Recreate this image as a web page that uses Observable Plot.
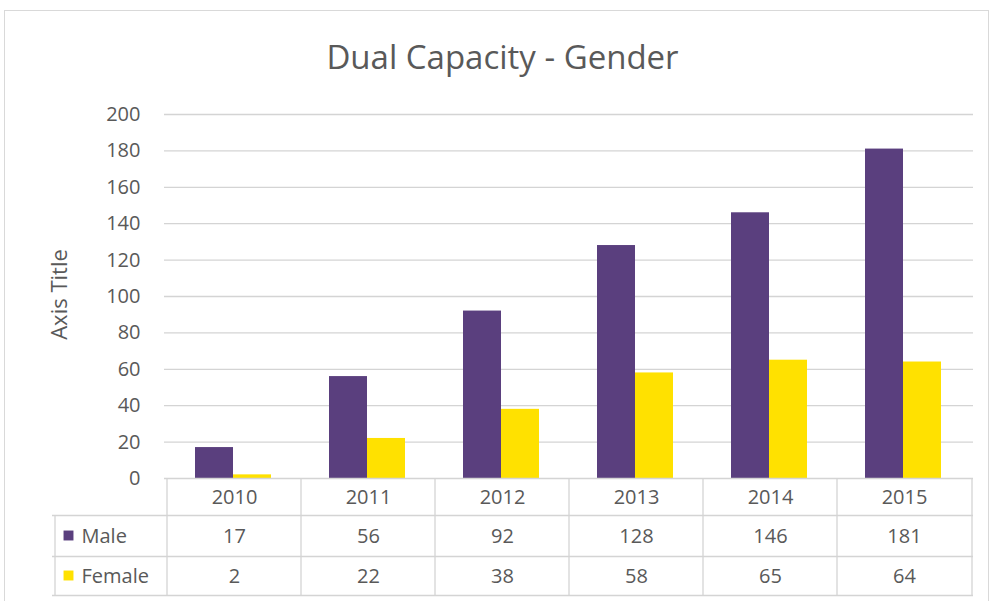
<!DOCTYPE html>
<html>
<head>
<meta charset="utf-8">
<script src="https://cdn.jsdelivr.net/npm/d3@7"></script>
<script src="https://cdn.jsdelivr.net/npm/@observablehq/plot@0.6"></script>
<style>
  html, body { margin: 0; padding: 0; background: #fff; }
  #wrap { position: relative; width: 993px; height: 601px; overflow: hidden; font-family: "Open Sans", sans-serif; }
  #card { position: absolute; left: 4px; top: 10px; width: 985px; height: 600px; border: 1px solid #d9d9d9; box-sizing: border-box; }
  #title { position: absolute; left: 0; width: 1005px; top: 34px; text-align: center; font-size: 33px; color: #595959; font-family: "Open Sans", sans-serif; }
  #chart { position: absolute; left: 0; top: 0; }
</style>
</head>
<body>
<div id="wrap">
  <div id="card"></div>
  <div id="chart"></div>
  <div id="title">Dual Capacity - Gender</div>
</div>
<script>
const years = ["2010", "2011", "2012", "2013", "2014", "2015"];
const male = [17, 56, 92, 128, 146, 181];
const female = [2, 22, 38, 58, 65, 64];
const yTicks = [0, 20, 40, 60, 80, 100, 120, 140, 160, 180, 200];
const seriesNames = ["Male", "Female"];
const seriesColors = ["#5a3f7e", "#ffe100"];
const yAxisTitle = "Axis Title";

const rows = years.map((y, i) => ({year: y, male: male[i], female: female[i]}));
const textColor = "#595959";
const lineColor = "#d4d4d4";
const fs = "20px";

const chart = Plot.plot({
  width: 993,
  height: 601,
  marginTop: 114,
  marginBottom: 123,
  marginLeft: 164,
  marginRight: 20,
  style: {fontFamily: "Open Sans, sans-serif", fontSize: fs, color: textColor, background: "transparent"},
  x: {domain: years, type: "band", padding: 0, axis: null},
  y: {domain: [0, 200], ticks: yTicks, label: null, axis: null},
  marks: [
    Plot.gridY(yTicks.filter(d => d > 0), {stroke: lineColor, strokeOpacity: 1, strokeWidth: 1.3}),
    Plot.axisY(yTicks, {tickSize: 0, tickPadding: 24, fontSize: fs, fill: textColor, label: null}),
    Plot.text([yAxisTitle], {frameAnchor: "left", textAnchor: "middle", dx: -105, dy: -2, rotate: -90, fontSize: "22px", fill: textColor}),
    Plot.barY(rows, {x: "year", y: "male", fill: seriesColors[0], insetLeft: 48, insetRight: 48, dx: -20}),
    Plot.barY(rows, {x: "year", y: "female", fill: seriesColors[1], insetLeft: 48, insetRight: 48, dx: 18}),
    // table: top line (zero line)
    Plot.ruleY([0], {stroke: lineColor, strokeWidth: 1.3}),
    // table horizontal lines
    Plot.ruleY([0], {stroke: lineColor, strokeWidth: 1.3, dy: 37, insetLeft: -112}),
    Plot.ruleY([0], {stroke: lineColor, strokeWidth: 1.3, dy: 78, insetLeft: -112}),
    Plot.ruleY([0], {stroke: lineColor, strokeWidth: 1.3, dy: 117, insetLeft: -112}),
    // table vertical lines
    Plot.ruleX(rows, {x: "year", y1: 0, y2: 0, dx: -67.5, insetBottom: -117, stroke: lineColor, strokeWidth: 1.3}),
    Plot.ruleX(rows.slice(-1), {x: "year", y1: 0, y2: 0, dx: 67.5, insetBottom: -117, stroke: lineColor, strokeWidth: 1.3}),
    Plot.ruleX(rows.slice(0, 1), {x: "year", y1: 0, y2: 0, dx: -179.5, insetTop: 37, insetBottom: -117, stroke: lineColor, strokeWidth: 1.3}),
    // table text
    Plot.text(rows, {x: "year", text: "year", frameAnchor: "bottom", dy: 25, fill: textColor, fontSize: fs}),
    Plot.text(rows, {x: "year", text: "male", frameAnchor: "bottom", dy: 64, fill: textColor, fontSize: fs}),
    Plot.text(rows, {x: "year", text: "female", frameAnchor: "bottom", dy: 104, fill: textColor, fontSize: fs}),
    // row labels with swatches
    Plot.dot([seriesNames[0]], {frameAnchor: "bottom-left", dx: -96, dy: 57, symbol: "square", r: 5.6, fill: seriesColors[0], stroke: null}),
    Plot.dot([seriesNames[1]], {frameAnchor: "bottom-left", dx: -96, dy: 97, symbol: "square", r: 5.6, fill: seriesColors[1], stroke: null}),
    Plot.text([seriesNames[0]], {frameAnchor: "bottom-left", dx: -83, dy: 64, textAnchor: "start", fill: textColor, fontSize: fs}),
    Plot.text([seriesNames[1]], {frameAnchor: "bottom-left", dx: -83, dy: 104, textAnchor: "start", fill: textColor, fontSize: fs}),
  ]
});
document.getElementById("chart").appendChild(chart);
</script>
</body>
</html>
